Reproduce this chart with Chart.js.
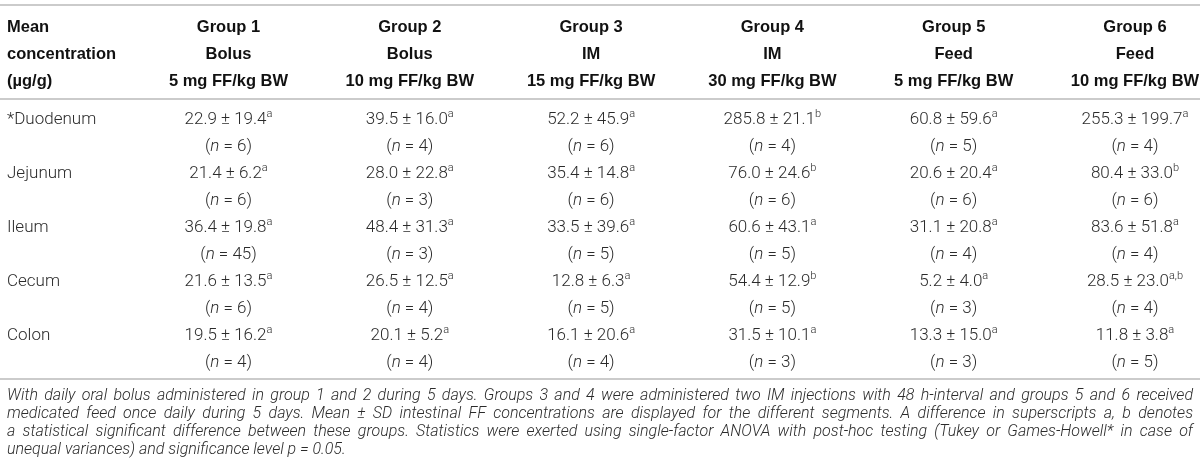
<!DOCTYPE html>
<html lang="en">
<head>
    <meta charset="UTF-8">
    <title>Mean intestinal FF concentrations</title>
    <script src="https://cdn.jsdelivr.net/npm/chart.js"></script>
    <style>
        html, body {
            margin: 0;
            padding: 0;
            background: #fff;
        }

        #wrap {
            width: 1200px;
            height: 473px;
        }
    </style>
</head>
<body>

    <div id="wrap"><canvas id="tbl" width="1200" height="473"></canvas></div>

    <script>
        // header rows
        var groups = ['Group 1', 'Group 2', 'Group 3', 'Group 4', 'Group 5', 'Group 6'];
        var routes = ['Bolus', 'Bolus', 'IM', 'IM', 'Feed', 'Feed'];
        var doses = ['5 mg FF/kg BW', '10 mg FF/kg BW', '15 mg FF/kg BW', '30 mg FF/kg BW', '5 mg FF/kg BW', '10 mg FF/kg BW'];
        var cornerLabel = ['Mean', 'concentration', '(\u00b5g/g)'];

        // intestinal segments
        var segments = ['*Duodenum', 'Jejunum', 'Ileum', 'Cecum', 'Colon'];

        // mean, SD, superscript and n per segment (groups 1..6)
        var duodenumMean = [22.9, 39.5, 52.2, 285.8, 60.8, 255.3];
        var duodenumSD = [19.4, 16.0, 45.9, 21.1, 59.6, 199.7];
        var duodenumSup = ['a', 'a', 'a', 'b', 'a', 'a'];
        var duodenumN = [6, 4, 6, 4, 5, 4];

        var jejunumMean = [21.4, 28.0, 35.4, 76.0, 20.6, 80.4];
        var jejunumSD = [6.2, 22.8, 14.8, 24.6, 20.4, 33.0];
        var jejunumSup = ['a', 'a', 'a', 'b', 'a', 'b'];
        var jejunumN = [6, 3, 6, 6, 6, 6];

        var ileumMean = [36.4, 48.4, 33.5, 60.6, 31.1, 83.6];
        var ileumSD = [19.8, 31.3, 39.6, 43.1, 20.8, 51.8];
        var ileumSup = ['a', 'a', 'a', 'a', 'a', 'a'];
        var ileumN = [45, 3, 5, 5, 4, 4];

        var cecumMean = [21.6, 26.5, 12.8, 54.4, 5.2, 28.5];
        var cecumSD = [13.5, 12.5, 6.3, 12.9, 4.0, 23.0];
        var cecumSup = ['a', 'a', 'a', 'b', 'a', 'a,b'];
        var cecumN = [6, 4, 5, 5, 3, 4];

        var colonMean = [19.5, 20.1, 16.1, 31.5, 13.3, 11.8];
        var colonSD = [16.2, 5.2, 20.6, 10.1, 15.0, 3.8];
        var colonSup = ['a', 'a', 'a', 'a', 'a', 'a'];
        var colonN = [4, 4, 4, 3, 3, 5];

        var footnoteLines = [
            'With daily oral bolus administered in group 1 and 2 during 5 days. Groups 3 and 4 were administered two IM injections with 48 h-interval and groups 5 and 6 received',
            'medicated feed once daily during 5 days. Mean \u00b1 SD intestinal FF concentrations are displayed for the different segments. A difference in superscripts a, b denotes',
            'a statistical significant difference between these groups. Statistics were exerted using single-factor ANOVA with post-hoc testing (Tukey or Games-Howell* in case of',
            'unequal variances) and significance level p = 0.05.'
        ];

        var means = [duodenumMean, jejunumMean, ileumMean, cecumMean, colonMean];
        var sds = [duodenumSD, jejunumSD, ileumSD, cecumSD, colonSD];
        var sups = [duodenumSup, jejunumSup, ileumSup, cecumSup, colonSup];
        var ns = [duodenumN, jejunumN, ileumN, cecumN, colonN];

        // layout in scale units (x: column index, y: text line index)
        var LABEL_X = -0.2217;
        var RIGHT_X = 6.32;
        var BODY_START = 3.45;
        var RULES = [-0.8, 2.68, 13.04];
        var NOTE_START = 13.65;
        var NOTE_STEP = 0.668;

        var FONT_HEAD = 'bold 16.5px "Liberation Sans", Arial, sans-serif';
        var FONT_BODY = '300 17px Roboto, "Liberation Sans", sans-serif';
        var FONT_ITAL = 'italic 300 17px Roboto, "Liberation Sans", sans-serif';
        var FONT_SUP = '300 11px Roboto, "Liberation Sans", sans-serif';
        var NOTE_SIZE = 16;

        function cellPoints() {
            var head = [], body = [];
            for (var r = 0; r < 3; r++) {
                head.push({ x: LABEL_X, y: r, parts: [[cornerLabel[r], FONT_HEAD, 0]], left: true });
            }
            for (var g = 0; g < groups.length; g++) {
                head.push({ x: g + 1, y: 0, parts: [[groups[g], FONT_HEAD, 0]] });
                head.push({ x: g + 1, y: 1, parts: [[routes[g], FONT_HEAD, 0]] });
                head.push({ x: g + 1, y: 2, parts: [[doses[g], FONT_HEAD, 0]] });
            }
            for (var s = 0; s < segments.length; s++) {
                var yv = BODY_START + 2 * s;
                body.push({ x: LABEL_X, y: yv, parts: [[segments[s], FONT_BODY, 0]], left: true });
                for (var k = 0; k < groups.length; k++) {
                    body.push({
                        x: k + 1, y: yv,
                        parts: [
                            [means[s][k].toFixed(1) + ' \u00b1 ' + sds[s][k].toFixed(1), FONT_BODY, 0],
                            [sups[s][k], FONT_SUP, -6]
                        ]
                    });
                    body.push({
                        x: k + 1, y: yv + 1,
                        parts: [['(', FONT_BODY, 0], ['n', FONT_ITAL, 0], [' = ' + ns[s][k] + ')', FONT_BODY, 0]]
                    });
                }
            }
            return { head: head, body: body };
        }

        function drawParts(ctx, x, y, parts, left) {
            var total = 0;
            parts.forEach(function (p) {
                ctx.font = p[1];
                total += ctx.measureText(p[0]).width;
            });
            var cx = left ? x : x - total / 2;
            parts.forEach(function (p) {
                ctx.font = p[1];
                ctx.fillText(p[0], cx, y + p[2]);
                cx += ctx.measureText(p[0]).width;
            });
        }

        var tablePlugin = {
            id: 'tableText',
            beforeDatasetsDraw: function (chart) {
                var ctx = chart.ctx;
                var area = chart.chartArea;
                var ys = chart.scales.y;
                ctx.save();
                ctx.strokeStyle = '#cbcbcb';
                ctx.lineWidth = 2;
                RULES.forEach(function (v) {
                    var py = Math.round(ys.getPixelForValue(v));
                    ctx.beginPath();
                    ctx.moveTo(area.left, py);
                    ctx.lineTo(area.right, py);
                    ctx.stroke();
                });
                ctx.restore();
            },
            afterDatasetsDraw: function (chart) {
                var ctx = chart.ctx;
                ctx.save();
                ctx.textBaseline = 'middle';
                ctx.textAlign = 'left';
                chart.data.datasets.forEach(function (ds, i) {
                    var meta = chart.getDatasetMeta(i);
                    ctx.fillStyle = ds.textColor;
                    meta.data.forEach(function (el, j) {
                        var pt = ds.data[j];
                        drawParts(ctx, el.x, el.y, pt.parts, pt.left);
                    });
                });

                // justified footnote, shrunk if a line would overflow
                var xs = chart.scales.x, ys = chart.scales.y;
                var x0 = xs.getPixelForValue(LABEL_X);
                var x1 = xs.getPixelForValue(RIGHT_X);
                var size = NOTE_SIZE;
                var setFont = function () {
                    ctx.font = 'italic 300 ' + size + 'px Roboto, "Liberation Sans", sans-serif';
                };
                setFont();
                while (size > 10 && footnoteLines.some(function (l) { return ctx.measureText(l).width > x1 - x0; })) {
                    size -= 0.25;
                    setFont();
                }
                ctx.fillStyle = '#2b2b2b';
                footnoteLines.forEach(function (line, k) {
                    var py = ys.getPixelForValue(NOTE_START + k * NOTE_STEP);
                    var words = line.split(' ');
                    var last = k === footnoteLines.length - 1;
                    var wordsW = 0;
                    words.forEach(function (w) { wordsW += ctx.measureText(w).width; });
                    var gap = ctx.measureText(' ').width;
                    if (!last) {
                        gap = (x1 - x0 - wordsW) / (words.length - 1);
                    }
                    var cx = x0;
                    words.forEach(function (w) {
                        ctx.fillText(w, cx, py);
                        cx += ctx.measureText(w).width + gap;
                    });
                });
                ctx.restore();
            }
        };

        var cells = cellPoints();

        var chart = new Chart(document.getElementById('tbl'), {
            type: 'scatter',
            data: {
                datasets: [
                    { label: 'header', data: cells.head, textColor: '#111', pointRadius: 0 },
                    { label: 'values', data: cells.body, textColor: '#2b2b2b', pointRadius: 0 }
                ]
            },
            options: {
                responsive: false,
                animation: false,
                layout: { padding: 0 },
                plugins: {
                    legend: { display: false },
                    tooltip: { enabled: false }
                },
                scales: {
                    x: { type: 'linear', display: false, min: -0.2603, max: 6.3586 },
                    y: { type: 'linear', display: false, reverse: true, min: -1, max: 16.52 }
                }
            },
            plugins: [tablePlugin]
        });
    </script>
</body>
</html>
